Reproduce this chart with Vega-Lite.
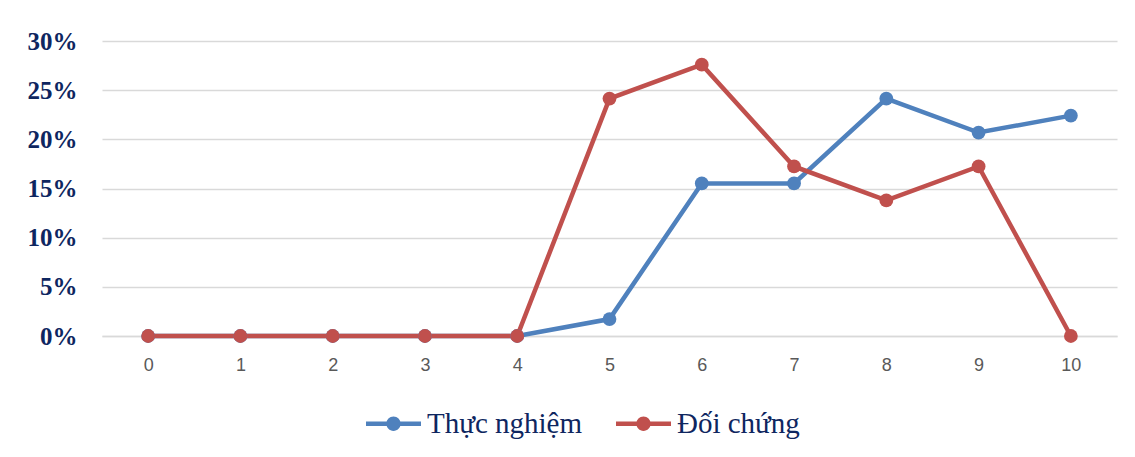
{
  "$schema": "https://vega.github.io/schema/vega-lite/v6.json",
  "autosize": {"type": "none"},
  "width": 1015,
  "height": 295,
  "padding": {"left": 102, "top": 41, "right": 18, "bottom": 121},
  "background": "white",
  "data": {
    "values": [
      {"diem": 0, "nhom": "Thực nghiệm", "tyle": 0},
      {"diem": 1, "nhom": "Thực nghiệm", "tyle": 0},
      {"diem": 2, "nhom": "Thực nghiệm", "tyle": 0},
      {"diem": 3, "nhom": "Thực nghiệm", "tyle": 0},
      {"diem": 4, "nhom": "Thực nghiệm", "tyle": 0},
      {"diem": 5, "nhom": "Thực nghiệm", "tyle": 0.0172},
      {"diem": 6, "nhom": "Thực nghiệm", "tyle": 0.1552},
      {"diem": 7, "nhom": "Thực nghiệm", "tyle": 0.1552},
      {"diem": 8, "nhom": "Thực nghiệm", "tyle": 0.2414},
      {"diem": 9, "nhom": "Thực nghiệm", "tyle": 0.2069},
      {"diem": 10, "nhom": "Thực nghiệm", "tyle": 0.2241},
      {"diem": 0, "nhom": "Đối chứng", "tyle": 0},
      {"diem": 1, "nhom": "Đối chứng", "tyle": 0},
      {"diem": 2, "nhom": "Đối chứng", "tyle": 0},
      {"diem": 3, "nhom": "Đối chứng", "tyle": 0},
      {"diem": 4, "nhom": "Đối chứng", "tyle": 0},
      {"diem": 5, "nhom": "Đối chứng", "tyle": 0.2414},
      {"diem": 6, "nhom": "Đối chứng", "tyle": 0.2759},
      {"diem": 7, "nhom": "Đối chứng", "tyle": 0.1724},
      {"diem": 8, "nhom": "Đối chứng", "tyle": 0.1379},
      {"diem": 9, "nhom": "Đối chứng", "tyle": 0.1724},
      {"diem": 10, "nhom": "Đối chứng", "tyle": 0}
    ]
  },
  "mark": {"type": "line", "strokeWidth": 4.5, "point": {"filled": true, "size": 190}},
  "encoding": {
    "x": {
      "field": "diem",
      "type": "ordinal",
      "scale": {"type": "point", "padding": 0.5},
      "axis": {
        "title": null,
        "labelAngle": 0,
        "ticks": false,
        "domain": true,
        "domainColor": "#D9D9D9",
        "domainWidth": 1.5,
        "labelFont": "Liberation Sans",
        "labelFontSize": 18,
        "labelColor": "#595959",
        "labelPadding": 20,
        "grid": false
      }
    },
    "y": {
      "field": "tyle",
      "type": "quantitative",
      "scale": {"domain": [0, 0.3], "nice": false},
      "axis": {
        "title": null,
        "values": [0, 0.05, 0.1, 0.15, 0.2, 0.25, 0.3],
        "format": ".0%",
        "ticks": false,
        "domain": false,
        "grid": true,
        "gridColor": "#D9D9D9",
        "gridWidth": 1.5,
        "labelFont": "Liberation Serif",
        "labelFontWeight": "bold",
        "labelFontSize": 25,
        "labelColor": "#0E2660",
        "labelPadding": 25
      }
    },
    "color": {
      "field": "nhom",
      "type": "nominal",
      "scale": {"domain": ["Thực nghiệm", "Đối chứng"], "range": ["#4F81BD", "#C0504D"]},
      "legend": {
        "title": null,
        "orient": "none",
        "direction": "horizontal",
        "legendX": 264,
        "legendY": 355,
        "padding": 0,
        "symbolType": "M -1 -0.085 L 1 -0.085 L 1 0.085 L -1 0.085 Z M -0.26 0 A 0.26 0.26 0 1 1 0.26 0 A 0.26 0.26 0 1 1 -0.26 0 Z",
        "symbolSize": 3025,
        "symbolStrokeWidth": 0,
        "labelFont": "Liberation Serif",
        "labelFontSize": 29,
        "labelColor": "#0E2660",
        "labelOffset": 6,
        "columnPadding": 33,
        "encode": {
          "symbols": {"update": {"fill": {"field": "value", "scale": "color"}, "strokeWidth": {"value": 0}}}
        }
      }
    }
  },
  "config": {"view": {"stroke": null}}
}
